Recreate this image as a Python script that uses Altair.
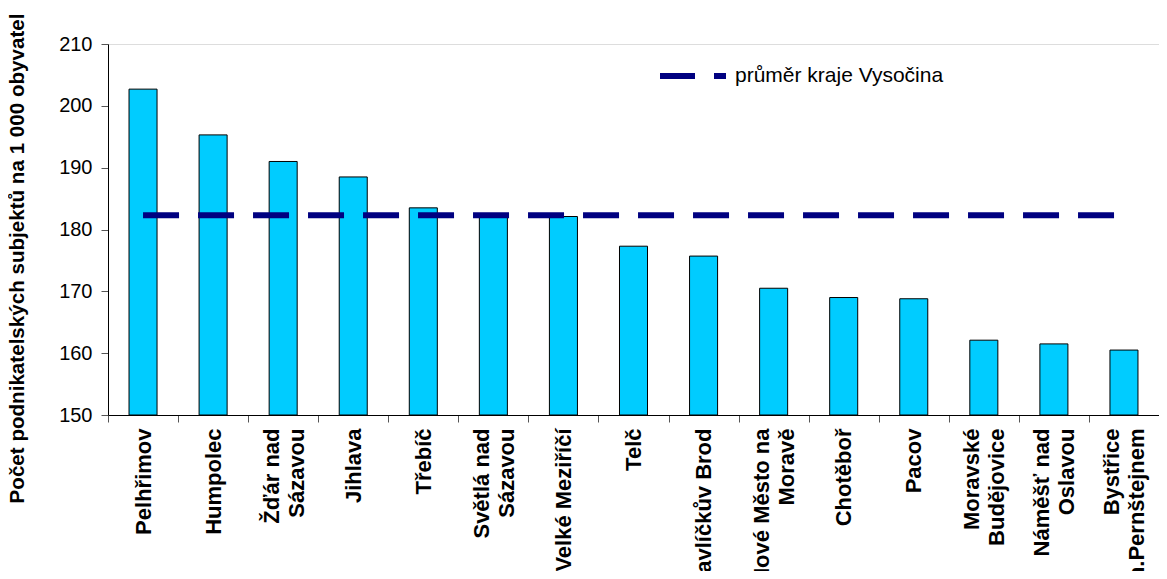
import altair as alt
import pandas as pd

mesta = ["Pelhřimov", "Humpolec", "Žďár nad\nSázavou", "Jihlava", "Třebíč",
         "Světlá nad\nSázavou", "Velké Meziříčí", "Telč", "Havlíčkův Brod",
         "Nové Město na\nMoravě", "Chotěboř", "Pacov", "Moravské\nBudějovice",
         "Náměšť nad\nOslavou", "Bystřice\nn.Pernštejnem"]
hodnoty = [202.7, 195.3, 191.0, 188.5, 183.5, 182.4, 182.1, 177.3, 175.7,
           170.5, 169.0, 168.8, 162.1, 161.5, 160.5]
prumer = 182.3
legenda = "průměr kraje Vysočina"
y_ticks = [150, 160, 170, 180, 190, 200, 210]
y_title = "Počet podnikatelských subjektů na 1 000 obyvatel"

FONT = "Liberation Sans"

df = pd.DataFrame({"mesto": mesta, "hodnota": hodnoty})
df_line = pd.DataFrame({"mesto": mesta, "prumer": [prumer] * len(mesta),
                        "legenda": [legenda] * len(mesta)})

x_enc = alt.X("mesto:N", sort=mesta, title=None,
              scale=alt.Scale(paddingInner=0, paddingOuter=0),
              axis=alt.Axis(labelAngle=-90, labelAlign="right", labelBaseline="middle",
                            labelExpr="split(datum.label, '\\n')",
                            labelOffset={"expr": "indexof(datum.label, '\\n') >= 0 ? -12 : 0"},
                            labelFont=FONT, labelFontSize=22, labelFontWeight="bold",
                            labelColor="black", labelLineHeight=25, labelPadding=6,
                            labelLimit=400,
                            tickBand="extent", tickSize=7, tickColor="#555555",
                            domainColor="black", labelOverlap=False))

y_scale = alt.Scale(domain=[y_ticks[0], y_ticks[-1]], nice=False, zero=False)

bars = alt.Chart(df).mark_bar(
    fill="#00CCFF", stroke="black", strokeWidth=1, width={"band": 0.4}
).encode(
    x=x_enc,
    y=alt.Y("hodnota:Q", scale=y_scale,
            axis=alt.Axis(values=y_ticks, title=y_title, grid=False,
                          labelFont=FONT, labelFontSize=20, labelColor="black",
                          labelPadding=9, tickSize=7, tickColor="#555555",
                          domainColor="black",
                          titleFont=FONT, titleFontSize=20.6, titleFontWeight="bold",
                          titleColor="black", titleAngle=270, titleX=-91, titleY=214,
                          titleAlign="center", titleBaseline="middle")),
    y2=alt.datum(y_ticks[0]),
)

line = alt.Chart(df_line).mark_line(
    strokeWidth=6, strokeDash=[36, 19], strokeCap="butt"
).encode(
    x=alt.X("mesto:N", sort=mesta),
    y=alt.Y("prumer:Q", scale=y_scale),
    color=alt.Color("legenda:N",
                    scale=alt.Scale(domain=[legenda], range=["#000080"]),
                    legend=alt.Legend(orient="none", legendX=549, legendY=-4,
                                      title=None, symbolType="stroke",
                                      symbolSize=4356, symbolStrokeWidth=6,
                                      symbolDash=[35, 19],
                                      labelFont=FONT, labelFontSize=21,
                                      labelColor="black", labelOffset=6,
                                      labelLimit=400)),
)

chart = alt.layer(bars, line).properties(
    width=1051, height=371,
    autosize=alt.AutoSizeParams(type="none"),
    padding={"left": 100, "top": 36, "right": 0, "bottom": 156},
).configure_view(stroke=None).configure(background="white")

chart.save("out.html", embed_options={"renderer": "svg", "actions": False})
